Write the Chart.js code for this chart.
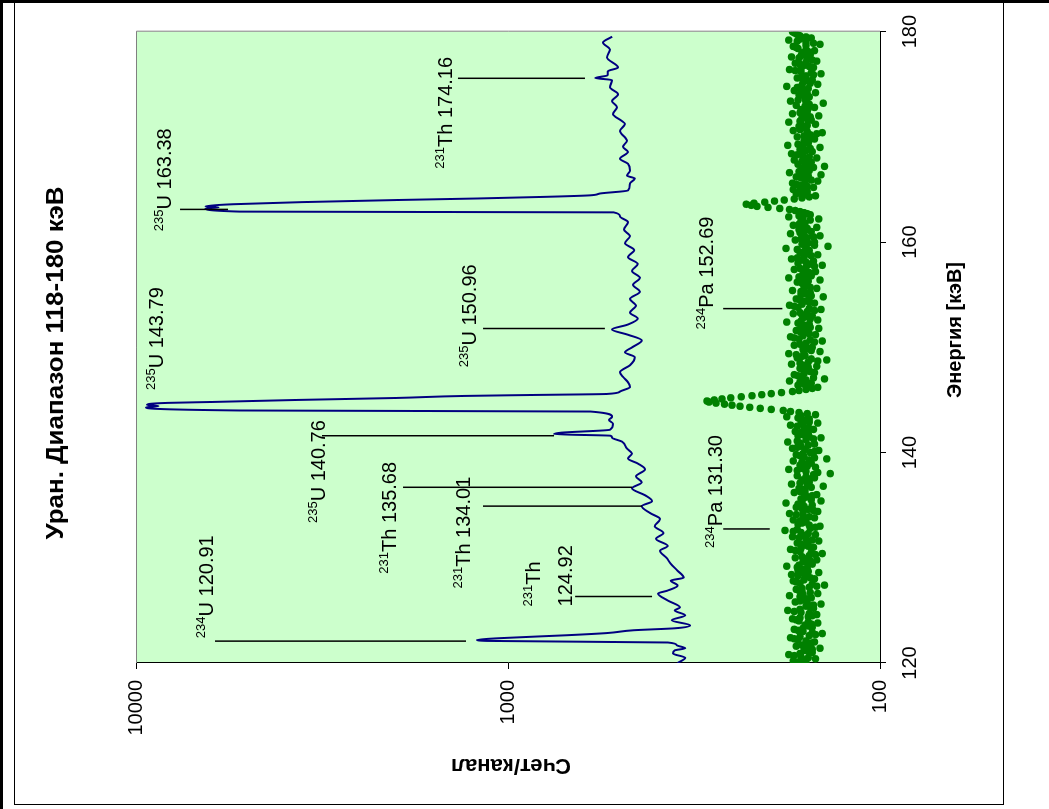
<!DOCTYPE html>
<html>
<head>
<meta charset="utf-8">
<script src="https://cdn.jsdelivr.net/npm/chart.js@4.4.0/dist/chart.umd.min.js"></script>
<style>
body { margin:0; width:1049px; height:809px; overflow:hidden; background:#fff; position:relative; }
#wrap { position:absolute; left:108px; top:-90px; width:800px; height:986px; transform:rotate(-90deg); }
#thick { position:absolute; left:0; top:0; width:1049px; height:809px; border-left:3px solid #000; border-top:3px solid #000; box-sizing:border-box; }
#box { position:absolute; left:14px; top:0; width:990px; height:805px; border:1px solid #000; box-sizing:border-box; }
</style>
</head>
<body>
<div id="wrap"><canvas id="myChart" width="800" height="986"></canvas></div>
<div id="box"></div>
<div id="thick"></div>
<script>
var FONT = '"Liberation Sans", Arial, sans-serif';

// spectrum (blue line): energy keV / counts per channel
var specE = [120.0, 120.5, 120.9, 121.2, 121.4, 121.7, 121.95, 122.1, 122.2, 122.36, 122.64, 122.85, 123.11, 123.3,
    123.58, 124.06, 124.53, 125.0, 125.28, 125.94, 126.6, 126.89, 127.36, 127.83, 128.11, 128.77, 129.43,
    130.0, 130.66, 131.13, 131.8, 132.36, 133.0, 133.68, 134.25, 134.9, 135.38, 135.94, 136.6, 137.17, 137.74, 138.4, 138.96, 139.43, 139.9, 140.38, 141.04,
    141.42, 141.6, 141.75, 141.89, 142.17, 142.74, 143.1, 143.4, 143.9,
    144.0, 144.3, 144.42, 144.53, 144.72, 144.81, 145.0, 145.19, 145.38, 145.47, 145.57, 145.8, 146.23, 146.7, 147.2, 147.64, 148.3, 149.06, 149.53, 150.0,
    150.66, 151.2, 151.7, 152.17, 152.74, 153.3, 153.96, 154.6, 155.28, 155.94, 156.6, 157.26, 157.92, 158.58, 159.25, 159.9, 160.57, 161.2, 161.9, 162.45, 162.83,
    162.9, 163.2, 163.3, 163.41, 163.6, 163.8, 164.0, 164.15, 164.3, 164.45, 164.62, 164.91, 165.57, 166.04, 166.32, 166.79, 167.45, 167.92, 168.58, 169.06,
    169.62, 170.57, 171.23, 171.51, 172.17, 172.83, 173.4, 174.06, 174.72, 175.4, 175.6, 175.85, 176.23, 176.6, 177.55, 178.3, 178.96, 179.53];
var specC = [350, 334, 360, 356, 334, 352, 372, 1139, 1212, 1051, 694, 540, 461, 356,
    324, 363, 334, 356, 345, 372, 395, 372, 350, 365, 337, 350, 365,
    375, 390, 372, 400, 382, 403, 390, 415, 437, 410, 428, 464, 437, 453, 428, 448, 476, 464, 479, 494,
    525, 530, 752, 720, 532, 522, 535, 525, 600,
    5260, 9400, 8700, 9343, 8254, 6210, 3692, 1990, 1321, 873, 542, 500, 470, 476, 491, 500, 470, 456, 485, 464,
    437, 476, 525, 476, 448, 470, 453, 470, 442, 461, 442, 464, 448, 476, 458, 485, 470, 488, 476, 500, 520,
    5250, 6500, 6000, 6500, 5500, 3600, 2000, 1200, 800, 600, 566, 476, 470, 456, 479, 470, 476, 500, 476, 491,
    479, 500, 485, 494, 522, 509, 525, 506, 532, 525, 583, 540, 539, 506, 542, 532, 555, 525];

// green points: channels every 0.1 keV from 120 keV, split into even (120.0, 120.2 ...) and odd (120.1, 120.3 ...)
var resStart = 120, resStep = 0.2;
var resEven = [158, 171, 149, 163, 176, 152, 160, 145, 168, 157,
    150, 166, 174, 155, 143, 161, 170, 152, 159, 147,
    165, 172, 156, 148, 163, 177, 151, 158, 144, 169,
    160, 153, 175, 147, 162, 168, 155, 141, 164, 171,
    150, 159, 173, 146, 166, 157, 178, 152, 161, 148,
    169, 155, 143, 164, 174, 151, 160, 167, 146, 158,
    172, 149, 163, 180, 154, 145, 166, 158, 171, 150,
    161, 175, 147, 156, 168, 152, 179, 144, 163, 157,
    148, 170, 159, 165, 142, 173, 155, 162, 150, 167,
    136, 158, 176, 149, 164, 153, 171, 139, 160, 168,
    154, 146, 172, 163, 150, 177, 158, 144, 166, 156,
    169, 151, 160, 174, 147, 163, 155, 178, 149, 165,
    182, 210, 238, 262, 288, 279, 252, 221, 196, 172,
    158, 147, 166, 153, 175, 141, 162, 170, 150, 157,
    164, 148, 173, 156, 139, 167, 159, 176, 145, 161,
    152, 170, 158, 143, 165, 174, 149, 160, 168, 146,
    163, 155, 178, 147, 161, 152, 171, 157, 144, 166,
    175, 150, 159, 168, 142, 163, 154, 172, 148, 160,
    157, 167, 145, 176, 153, 161, 149, 170, 158, 143,
    166, 151, 173, 160, 147, 164, 155, 179, 138, 162,
    150, 169, 157, 145, 174, 153, 165, 148, 171, 159,
    163, 146, 176, 154, 160, 169, 186, 214, 229, 204,
    181, 162, 149, 168, 157, 171, 151, 164, 172, 147,
    159, 168, 144, 175, 155, 162, 141, 166, 153, 170,
    148, 161, 173, 152, 164, 145, 177, 156, 160, 150,
    167, 154, 143, 171, 158, 165, 149, 176, 153, 162,
    146, 172, 157, 163, 150, 168, 142, 174, 159, 155,
    165, 149, 170, 156, 178, 147, 161, 152, 167, 158,
    144, 163, 175, 151, 160, 169, 148, 157, 173, 154,
    162, 150, 166, 171, 145, 158, 176, 153, 164, 168,
    172];
var resOdd = [165, 160, 156, 170, 164, 156, 152, 157, 162, 153,
    158, 170, 164, 149, 152, 166, 161, 155, 153, 156,
    168, 164, 152, 155, 170, 164, 154, 151, 157, 164,
    157, 164, 161, 154, 165, 162, 148, 152, 168, 160,
    154, 166, 160, 156, 162, 167, 165, 157, 154, 159,
    162, 149, 153, 169, 163, 156, 163, 156, 152, 165,
    160, 156, 171, 167, 149, 155, 162, 164, 161, 155,
    168, 161, 151, 162, 160, 166, 162, 153, 160, 152,
    159, 164, 162, 153, 157, 164, 158, 156, 158, 151,
    147, 167, 162, 157, 158, 162, 155, 150, 164, 161,
    150, 159, 167, 156, 164, 167, 151, 155, 161, 163,
    160, 155, 167, 161, 155, 159, 166, 163, 157, 174,
    196, 224, 250, 276, 292, 266, 236, 208, 184, 165,
    152, 157, 160, 164, 158, 151, 166, 160, 154, 161,
    156, 161, 164, 147, 153, 163, 168, 160, 153, 157,
    161, 164, 150, 154, 170, 161, 155, 164, 157, 154,
    159, 166, 163, 154, 157, 162, 164, 150, 155, 170,
    162, 155, 164, 155, 153, 158, 163, 160, 154, 158,
    162, 156, 160, 165, 157, 155, 160, 164, 150, 155,
    158, 162, 167, 153, 156, 160, 167, 158, 150, 156,
    160, 163, 151, 160, 164, 159, 157, 160, 165, 161,
    154, 161, 165, 157, 164, 175, 200, 222, 218, 192,
    170, 155, 158, 162, 164, 161, 157, 168, 159, 153,
    163, 156, 160, 165, 158, 151, 154, 159, 162, 159,
    155, 167, 162, 158, 154, 161, 166, 158, 155, 158,
    160, 148, 157, 164, 161, 157, 163, 164, 157, 154,
    159, 164, 160, 156, 159, 155, 158, 166, 157, 160,
    157, 160, 163, 167, 162, 154, 156, 160, 162, 151,
    153, 169, 163, 155, 164, 158, 152, 165, 163, 158,
    156, 158, 168, 158, 151, 167, 164, 158, 166, 170];

var energyTicks = [120, 140, 160, 180];
var countTicks = [100, 1000, 10000];

// peak labels: isotope, text, marker line (energy, from count, to count), text start (energy, baseline count)
var peakIso = ['234', '231', '231', '231', '235', '235', '235', '235', '231', '234', '234'];
var peakText = ['U 120.91', 'Th|124.92', 'Th 134.01', 'Th 135.68', 'U 140.76', 'U 143.79', 'U 150.96', 'U 163.38', 'Th 174.16', 'Pa 131.30', 'Pa 152.69'];
var peakLineE = [122.08, 126.32, 134.91, 136.70, 141.60, null, 151.79, 163.11, 175.57, 132.74, 153.68];
var peakLineFrom = [6133, 660, 1167, 1915, 3162, null, 1167, 7614, 1363, 264, 264];
var peakLineTo = [1297, 410, 436, 464, 752, null, 549, 5657, 621, 198, 183];
var peakTextE = [122.36, 125.38, 127.08, 128.49, 133.30, 145.94, 148.11, 161.04, 166.98, 130.94, 151.70];
var peakTextC = [6209, 820, 1265, 2000, 3105, 8457, 1219, 8052, 1414, 266, 281];
var peakText2C = [null, 673, null, null, null, null, null, null, null, null, null];

var specData = [];
for (var i = 0; i < specE.length; i++) {
    specData.push({x: specE[i], y: specC[i]});
}
var resData = [];
for (var j = 0; j < resEven.length; j++) {
    resData.push({x: resStart + j * resStep, y: resEven[j]});
    if (j < resOdd.length) {
        resData.push({x: resStart + 0.1 + j * resStep, y: resOdd[j]});
    }
}

function drawIsoText(ctx, x, y, iso, txt) {
    ctx.textAlign = 'left';
    ctx.textBaseline = 'alphabetic';
    ctx.font = '13px ' + FONT;
    ctx.fillText(iso, x, y - 8);
    var w = ctx.measureText(iso).width;
    ctx.font = '20px ' + FONT;
    ctx.fillText(txt, x + w, y);
}

var decor = {
    id: 'decor',
    beforeDraw: function (chart) {
        var ctx = chart.ctx, a = chart.chartArea;
        ctx.save();
        ctx.fillStyle = '#fff';
        ctx.fillRect(0, 0, chart.width, chart.height);
        ctx.fillStyle = '#ccffcc';
        ctx.fillRect(a.left, a.top, a.right - a.left, a.bottom - a.top);
        ctx.restore();
    },
    afterDraw: function (chart) {
        var ctx = chart.ctx, a = chart.chartArea;
        var xs = chart.scales.x, ys = chart.scales.y;
        ctx.save();
        // plot area border (the two sides without an axis)
        ctx.strokeStyle = '#808080';
        ctx.lineWidth = 1;
        ctx.beginPath();
        ctx.moveTo(a.left, a.top + 0.5);
        ctx.lineTo(a.right + 0.5, a.top + 0.5);
        ctx.lineTo(a.right + 0.5, a.bottom);
        ctx.stroke();

        // peak markers
        ctx.strokeStyle = '#000';
        ctx.fillStyle = '#000';
        ctx.lineWidth = 1.5;
        for (var k = 0; k < peakIso.length; k++) {
            if (peakLineE[k] != null) {
                var px = xs.getPixelForValue(peakLineE[k]);
                ctx.beginPath();
                ctx.moveTo(px, ys.getPixelForValue(peakLineFrom[k]));
                ctx.lineTo(px, ys.getPixelForValue(peakLineTo[k]));
                ctx.stroke();
            }
            var tx = xs.getPixelForValue(peakTextE[k]);
            var parts = peakText[k].split('|');
            drawIsoText(ctx, tx, ys.getPixelForValue(peakTextC[k]), peakIso[k], parts[0]);
            if (parts.length > 1) {
                ctx.font = '20px ' + FONT;
                ctx.fillText(parts[1], tx, ys.getPixelForValue(peakText2C[k]));
            }
        }

        // titles
        ctx.textAlign = 'center';
        ctx.textBaseline = 'alphabetic';
        ctx.save();
        ctx.translate(440, 48);
        ctx.scale(1.13, 1);
        ctx.font = 'bold 23px ' + FONT;
        ctx.fillText('Уран. Диапазон 118-180 кэВ', 0, 0);
        ctx.restore();
        ctx.font = 'bold 20px ' + FONT;
        ctx.fillText('Энергия [кэВ]', 473, 946);
        ctx.font = 'bold 22px ' + FONT;
        ctx.translate(44, 496);
        ctx.rotate(-Math.PI / 2);
        ctx.fillText('Счет/канал', 0, 0);
        ctx.restore();
    }
};

var ctx = document.getElementById('myChart').getContext('2d');
var chart = new Chart(ctx, {
    type: 'scatter',
    data: {
        datasets: [{
            type: 'line',
            label: 'spectrum',
            data: specData,
            borderColor: '#000080',
            borderWidth: 2,
            pointRadius: 0,
            fill: false,
            cubicInterpolationMode: 'monotone'
        }, {
            type: 'scatter',
            label: 'residual',
            data: resData,
            backgroundColor: '#008000',
            borderWidth: 0,
            pointRadius: 3.75
        }]
    },
    options: {
        responsive: false,
        animation: false,
        devicePixelRatio: 1,
        layout: {padding: {top: 121, right: 24, left: 0, bottom: 0}},
        plugins: {legend: {display: false}, title: {display: false}, tooltip: {enabled: false}},
        scales: {
            x: {
                type: 'linear',
                min: 120,
                max: 180,
                afterBuildTicks: function (s) { s.ticks = energyTicks.map(function (v) { return {value: v}; }); },
                afterFit: function (s) { s.height = 121; },
                ticks: {color: '#000', font: {family: FONT, size: 20}, padding: 12, maxRotation: 0,
                    callback: function (v) { return String(v); }},
                grid: {drawOnChartArea: false, drawTicks: true, tickLength: 6, tickColor: '#000'},
                border: {display: true, color: '#000', width: 1}
            },
            y: {
                type: 'logarithmic',
                min: 100,
                max: 10000,
                afterBuildTicks: function (s) { s.ticks = countTicks.map(function (v) { return {value: v}; }); },
                afterFit: function (s) { s.width = 140; },
                ticks: {color: '#000', font: {family: FONT, size: 20}, padding: 11,
                    callback: function (v) { return String(v); }},
                grid: {drawOnChartArea: false, drawTicks: true, tickLength: 6, tickColor: '#000'},
                border: {display: true, color: '#000', width: 1}
            }
        }
    },
    plugins: [decor]
});
</script>
</body>
</html>
